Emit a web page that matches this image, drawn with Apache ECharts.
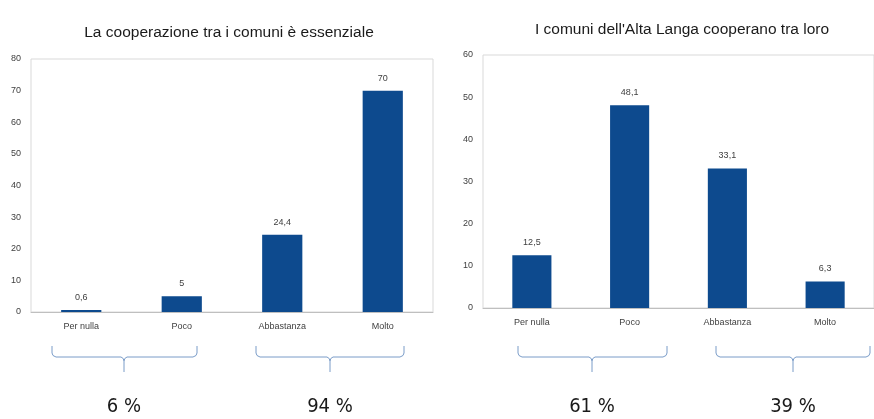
<!DOCTYPE html>
<html>
<head>
<meta charset="utf-8">
<script src="https://cdn.jsdelivr.net/npm/echarts@6/dist/echarts.min.js"></script>
<style>
html,body{margin:0;padding:0;background:#fff;}
#main{width:874px;height:419px;}
</style>
</head>
<body>
<div id="main"></div>
<script>
// ---- data ----
var categories = ['Per nulla', 'Poco', 'Abbastanza', 'Molto'];
var titleLeft = 'La cooperazione tra i comuni è essenziale';
var titleRight = "I comuni dell'Alta Langa cooperano tra loro";
var valuesLeft = [0.6, 5, 24.4, 70];
var valuesRight = [12.5, 48.1, 33.1, 6.3];
var groupTotals = ['6 %', '94 %', '61 %', '39 %'];

var FONT = '"DejaVu Sans Condensed", "Liberation Sans", Arial, sans-serif';
var FONT2 = '"Liberation Sans", Arial, sans-serif';
var BAR = '#0d4a8e';

var chart = echarts.init(document.getElementById('main'));

function fmt(p) { return String(p.value).replace('.', ','); }

var gridCommon = { show: true, borderColor: '#d9d9d9', borderWidth: 1, backgroundColor: 'transparent' };

function xAx(gi) {
  return {
    type: 'category', gridIndex: gi, data: categories,
    axisLine: { lineStyle: { color: '#bfbfbf' } },
    axisTick: { show: false },
    axisLabel: { color: '#404040', fontFamily: FONT2, fontSize: 9, margin: 10 }
  };
}
function yAx(gi, max) {
  return {
    type: 'value', gridIndex: gi, min: 0, max: max, interval: 10,
    axisLine: { show: false }, axisTick: { show: false },
    splitLine: { show: false },
    axisLabel: { color: '#404040', fontFamily: FONT2, fontSize: 9, margin: 10 }
  };
}
function barSeries(i, data) {
  return {
    type: 'bar', xAxisIndex: i, yAxisIndex: i, data: data,
    barWidth: '40%',
    itemStyle: { color: BAR },
    label: { show: true, position: 'top', distance: 8, formatter: fmt,
             color: '#404040', fontFamily: FONT2, fontSize: 9 }
  };
}

chart.setOption({
  animation: false,
  title: [
    { text: titleLeft, left: 224, top: 20, textAlign: 'center',
      textStyle: { fontFamily: FONT2, fontSize: 15.5, fontWeight: 'normal', color: '#1a1a1a' } },
    { text: titleRight, left: 677, top: 17, textAlign: 'center',
      textStyle: { fontFamily: FONT2, fontSize: 15.5, fontWeight: 'normal', color: '#1a1a1a' } }
  ],
  grid: [
    Object.assign({ left: 31, top: 59, right: 441, bottom: 107 }, gridCommon),
    Object.assign({ left: 483, top: 55, right: -10, bottom: 111 }, gridCommon)
  ],
  xAxis: [xAx(0), xAx(1)],
  yAxis: [yAx(0, 80), yAx(1, 60)],
  series: [barSeries(0, valuesLeft), barSeries(1, valuesRight)]
});

// ---- decorative braces and group totals ----
var braces = [
  { x1: 52, x2: 197, cx: 124 },
  { x1: 256, x2: 404, cx: 330 },
  { x1: 518, x2: 667, cx: 592 },
  { x1: 716, x2: 870, cx: 793 }
];
var yTop = 346, yMid = 357, yBot = 372;
var gfx = [];
var lineStyle = { fill: null, stroke: '#7a9cc8', lineWidth: 1 };
braces.forEach(function (b, i) {
  gfx.push({ type: 'polyline', silent: true, style: lineStyle,
    shape: { points: [
      [b.x1, yTop], [b.x1, yMid - 4], [b.x1 + 1, yMid - 1.5], [b.x1 + 4, yMid],
      [b.cx - 3, yMid], [b.cx - 0.8, yMid + 1.5], [b.cx, yMid + 4]
    ] } });
  gfx.push({ type: 'polyline', silent: true, style: lineStyle,
    shape: { points: [
      [b.x2, yTop], [b.x2, yMid - 4], [b.x2 - 1, yMid - 1.5], [b.x2 - 4, yMid],
      [b.cx + 3, yMid], [b.cx + 0.8, yMid + 1.5], [b.cx, yMid + 4], [b.cx, yBot]
    ] } });
  gfx.push({ type: 'text', x: b.cx, y: 407, silent: true,
             style: { text: groupTotals[i], fontFamily: FONT, fontSize: 20,
                      fill: '#1a1a1a', align: 'center', verticalAlign: 'middle' } });
});
chart.setOption({ graphic: gfx });
</script>
</body>
</html>
